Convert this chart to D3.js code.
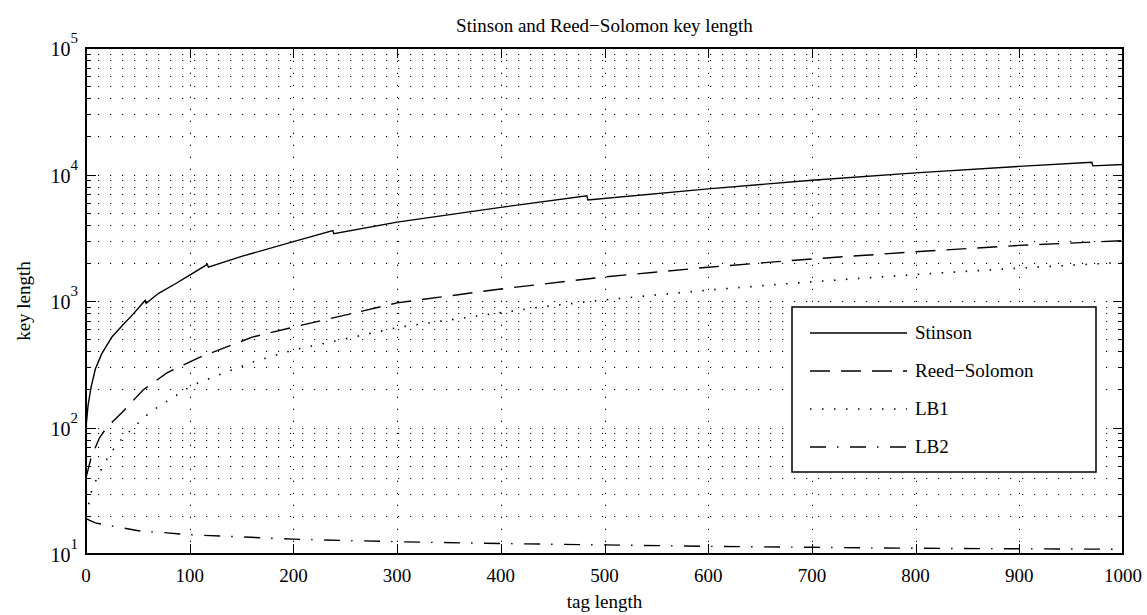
<!DOCTYPE html>
<html>
<head>
<meta charset="utf-8">
<script src="https://cdn.jsdelivr.net/npm/d3@7"></script>
<style>
body { margin: 0; background: #fff; }
text { font-family: "Liberation Serif", "DejaVu Serif", serif; fill: #000; }
</style>
</head>
<body>
<div id="chartContent"></div>
<script>
// values
var stinsonT = [0, 2, 5, 9, 15, 25, 35, 45, 57, 58, 70, 85, 100, 117, 118, 150, 200, 238, 239, 300, 400, 483, 484, 600, 700, 800, 900, 970, 971, 1000]
var stinsonK = [100, 150, 210, 290, 380, 520, 640, 780, 1010, 960, 1150, 1350, 1600, 1950, 1850, 2250, 2950, 3600, 3400, 4200, 5500, 6800, 6300, 7700, 9000, 10300, 11600, 12500, 11700, 12000]

var rsT = [0, 5, 13, 20, 35, 55, 78, 110, 161, 203, 300, 400, 500, 600, 700, 800, 900, 1000]
var rsK = [40, 58, 83, 100, 132, 198, 270, 360, 520, 630, 966, 1245, 1550, 1850, 2150, 2450, 2750, 3000]

var lb1T = [0, 6, 13, 23, 36, 62, 103, 161, 200, 303, 438, 500, 600, 700, 800, 900, 1000]
var lb1K = [20, 33, 44, 62, 84, 133, 217, 330, 410, 623, 895, 1020, 1220, 1420, 1620, 1820, 2020]

var lb2T = [0, 9, 52, 78, 100, 200, 300, 400, 500, 600, 700, 800, 900, 1000]
var lb2K = [19, 17.6, 15.2, 14.7, 14.2, 13.1, 12.5, 12.1, 11.8, 11.5, 11.3, 11.1, 11.0, 10.9]

var xTicks = [0, 100, 200, 300, 400, 500, 600, 700, 800, 900, 1000]
var yExps = [1, 2, 3, 4, 5]

var series = [
    {name: "Stinson", t: stinsonT, k: stinsonK, dash: null},
    {name: "Reed\u2212Solomon", t: rsT, k: rsK, dash: "20,11"},
    {name: "LB1", t: lb1T, k: lb1K, dash: "1.5,10.5"},
    {name: "LB2", t: lb2T, k: lb2K, dash: "16,11,1.5,11.5"}
]

var chartWidth = 1147, chartHeight = 615
var plotL = 86, plotR = 1123, plotT = 48, plotB = 554

var svg = d3.select("#chartContent")
    .append("svg")
    .attr("width", chartWidth)
    .attr("height", chartHeight)

var xScale = d3.scaleLinear().domain([0, 1000]).range([plotL, plotR])
var yScale = d3.scaleLog().domain([10, 1e5]).range([plotB, plotT])

//minor + major log values
var yAll = []
yExps.forEach(function(e, i) {
    if (i == yExps.length - 1) { yAll.push(Math.pow(10, e)); return }
    for (var m = 1; m < 10; m++) yAll.push(m * Math.pow(10, e))
})

//Grid
var grid = svg.append("g")
    .attr("stroke", "#000")
    .attr("stroke-width", 1)
    .attr("stroke-dasharray", "1.2,10.8")
    .attr("fill", "none")

grid.selectAll(".vg")
    .data(xTicks.slice(1, -1))
    .enter()
    .append("line")
    .attr("x1", d => Math.round(xScale(d)) + 0.5)
    .attr("x2", d => Math.round(xScale(d)) + 0.5)
    .attr("y1", plotB)
    .attr("y2", plotT)

grid.selectAll(".hg")
    .data(yAll.slice(1, -1))
    .enter()
    .append("line")
    .attr("x1", plotL)
    .attr("x2", plotR)
    .attr("y1", d => Math.round(yScale(d)) + 0.5)
    .attr("y2", d => Math.round(yScale(d)) + 0.5)

//Curves
svg.append("clipPath").attr("id", "clip")
    .append("rect")
    .attr("x", plotL).attr("y", plotT)
    .attr("width", plotR - plotL).attr("height", plotB - plotT)

var line = d3.line()
    .x(d => xScale(d[0]))
    .y(d => yScale(d[1]))

series.forEach(s => {
    var pts = s.t.map((t, i) => [t, s.k[i]])
    svg.append("path")
        .datum(pts)
        .attr("clip-path", "url(#clip)")
        .attr("fill", "none")
        .attr("stroke", "#000")
        .attr("stroke-width", s.name == "LB1" ? 1.6 : 1.4)
        .attr("stroke-dasharray", s.dash)
        .attr("d", line)
})

//Ticks (inside, all four sides)
var ticks = svg.append("g").attr("stroke", "#000").attr("stroke-width", 1)

xTicks.forEach(d => {
    var xx = Math.round(xScale(d)) + 0.5
    ticks.append("line").attr("x1", xx).attr("x2", xx).attr("y1", plotB).attr("y2", plotB - 10)
    ticks.append("line").attr("x1", xx).attr("x2", xx).attr("y1", plotT).attr("y2", plotT + 10)
})

yAll.forEach(d => {
    var yy = Math.round(yScale(d)) + 0.5
    var major = Math.abs(Math.log10(d) - Math.round(Math.log10(d))) < 1e-9
    var len = major ? 10 : 5
    ticks.append("line").attr("x1", plotL).attr("x2", plotL + len).attr("y1", yy).attr("y2", yy)
    ticks.append("line").attr("x1", plotR).attr("x2", plotR - len).attr("y1", yy).attr("y2", yy)
})

//Box
svg.append("rect")
    .attr("x", plotL).attr("y", plotT)
    .attr("width", plotR - plotL).attr("height", plotB - plotT)
    .attr("fill", "none")
    .attr("stroke", "#000")
    .attr("stroke-width", 2)

//Tick labels
svg.selectAll(".xl")
    .data(xTicks)
    .enter()
    .append("text")
    .attr("x", d => xScale(d))
    .attr("y", plotB + 28)
    .attr("text-anchor", "middle")
    .style("font-size", "19px")
    .text(d => d)

var yl = svg.selectAll(".yl")
    .data(yExps)
    .enter()
    .append("text")
    .attr("x", plotL - 8)
    .attr("y", d => yScale(Math.pow(10, d)) + 8)
    .attr("text-anchor", "end")
    .style("font-size", "20px")

yl.append("tspan").text("10")
yl.append("tspan")
    .attr("dy", -13)
    .style("font-size", "15px")
    .text(d => d)

//Labels
svg.append("text")
    .attr("x", (plotL + plotR) / 2)
    .attr("y", 32)
    .attr("text-anchor", "middle")
    .style("font-size", "19px")
    .text("Stinson and Reed\u2212Solomon key length")

svg.append("text")
    .attr("x", (plotL + plotR) / 2)
    .attr("y", 608)
    .attr("text-anchor", "middle")
    .style("font-size", "19px")
    .text("tag length")

svg.append("text")
    .attr("transform", "translate(30," + ((plotT + plotB) / 2) + ") rotate(-90)")
    .attr("text-anchor", "middle")
    .style("font-size", "19px")
    .text("key length")

//Legend
var legend = svg.append("g")
legend.append("rect")
    .attr("x", 792).attr("y", 307)
    .attr("width", 304).attr("height", 165)
    .attr("fill", "#fff")
    .attr("stroke", "#000")
    .attr("stroke-width", 1.5)

series.forEach((s, i) => {
    var ly = 333 + i * 38
    legend.append("line")
        .attr("x1", 810).attr("x2", 907)
        .attr("y1", ly).attr("y2", ly)
        .attr("stroke", "#000")
        .attr("stroke-width", 1.4)
        .attr("stroke-dasharray", s.dash)
    legend.append("text")
        .attr("x", 915)
        .attr("y", ly + 6)
        .style("font-size", "19px")
        .text(s.name)
})
</script>
</body>
</html>
